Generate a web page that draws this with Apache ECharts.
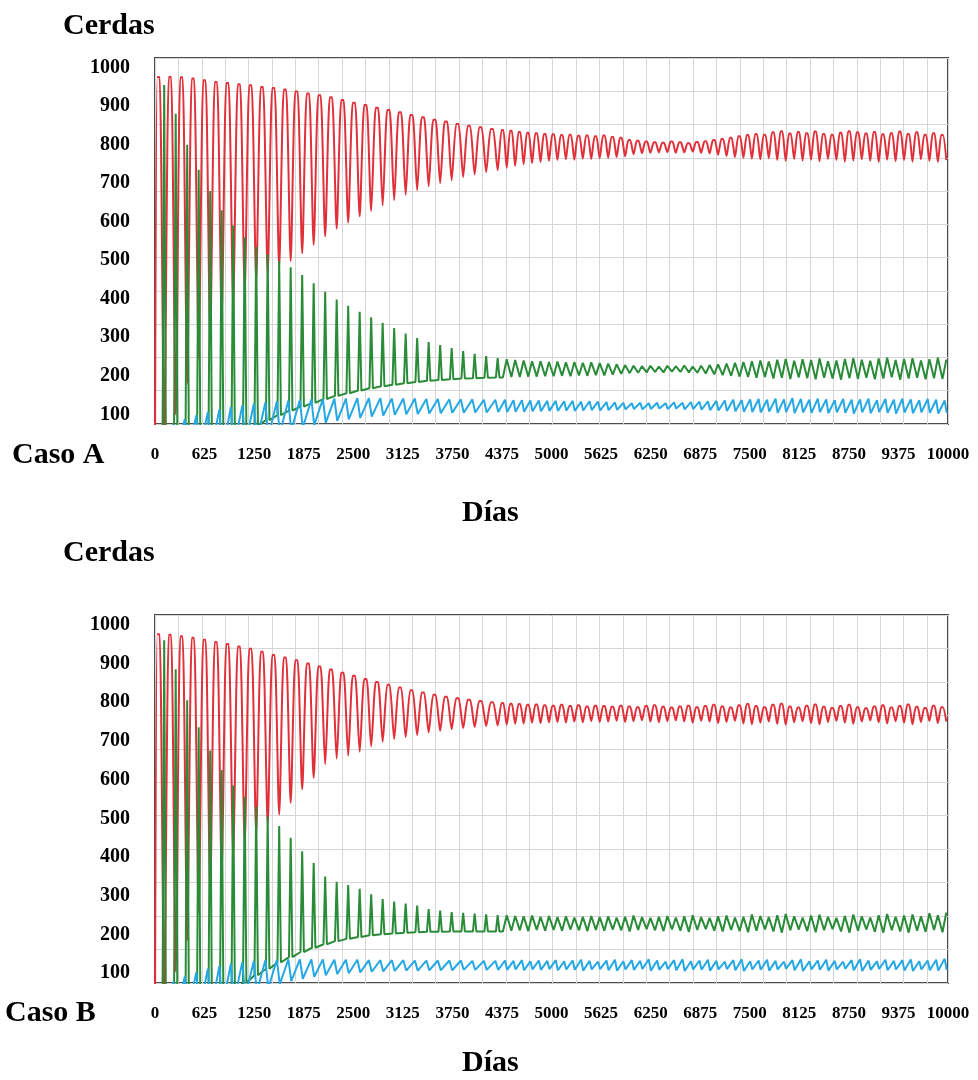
<!DOCTYPE html>
<html><head><meta charset="utf-8">
<script src="https://cdn.jsdelivr.net/npm/echarts@6/dist/echarts.min.js"></script>
<style>html,body{margin:0;padding:0;background:#fff}#c{width:978px;height:1080px}</style>
</head><body><div id="c"></div><script>
// ---------- tick labels ----------
const xTicks = [0,625,1250,1875,2500,3125,3750,4375,5000,5625,6250,6875,7500,8125,8750,9375,10000];
const yTicks = [100,200,300,400,500,600,700,800,900,1000];

// ---------- cycle timing ----------
const CYCLES_EARLY = 30;      // cycles with the long early period
const PERIOD_EARLY = 145;     // days
const LAST_DAY = 10000;

// ---------- Caso A : per-cycle peaks (Hi) and troughs (Lo) ----------
const redHiA = [976,976,975,972,967,963,960,957,954,950,947,943,938,933,928,923,916,909,903,896,890,884,877,871,865,860,854,849,845,841,
  838,836,833,831,830,828,827,825,826,823,824,822,824,820,818,812,810,808,806,805,808,806,804,807,809,812,815,818,822,825,828,826,832,835,829,833,830,834,828,826,831,835,832,829,833,827,830,834,828,832,826,830,825];
const redLoA = [30,100,180,245,300,350,390,420,445,465,482,498,518,540,562,582,598,614,628,642,656,670,682,692,700,708,716,723,729,734,
  740,745,749,752,755,758,760,762,761,764,763,765,766,768,770,775,778,779,780,781,779,780,782,779,777,774,771,768,766,764,762,765,760,758,763,759,761,757,763,760,756,759,762,758,755,761,757,760,756,762,758,755,760];
const grnHiA = [955,880,800,735,680,630,590,560,535,515,498,482,462,440,418,398,382,366,352,338,324,310,298,288,280,272,264,257,251,246,
  243,241,240,238,238,236,237,235,236,234,235,233,232,230,228,226,225,226,224,226,225,227,224,226,228,230,232,234,236,238,240,237,242,244,239,243,241,245,238,240,244,246,242,239,245,247,241,244,246,240,243,247,242];
const grnLoA = [0,0,0,0,10,25,40,55,70,85,98,110,120,130,140,148,155,162,168,173,177,181,184,187,189,191,193,194,195,196,
  196,197,197,198,198,199,199,200,199,201,200,202,201,203,205,207,208,209,210,209,211,210,209,208,206,204,202,200,198,197,195,197,193,195,192,196,194,191,195,193,190,194,192,195,191,193,196,190,193,195,191,194,192];
const cyaHiA = [60,75,88,98,106,113,119,124,128,131,134,136,138,139,140,141,141,142,142,142,141,141,141,140,140,139,139,139,138,138,
  138,137,137,136,136,135,135,134,135,133,134,133,132,131,130,129,130,129,130,129,131,130,132,133,134,135,136,138,137,139,140,138,141,139,142,140,138,141,139,137,140,138,139,141,137,140,138,141,139,137,140,138,136];
const cyaLoA = [0,0,0,0,0,0,10,20,30,40,50,58,65,72,78,83,87,91,94,97,99,100,101,102,103,104,104,105,105,106,
  106,107,107,108,108,109,109,110,109,110,111,110,111,112,113,114,113,114,115,114,115,113,114,112,111,110,109,108,107,106,105,107,104,106,103,105,104,106,103,105,104,102,105,103,106,104,102,105,103,105,104,102,104];
const redDay0A = 0;

// ---------- Caso B ----------
const redHiB = [975,974,970,966,961,955,950,944,938,930,922,915,908,900,892,884,876,868,860,852,845,838,831,825,819,814,810,806,803,800,
  798,796,795,793,794,792,791,793,790,792,789,791,790,788,791,789,787,790,792,788,786,789,791,787,790,793,789,786,792,795,790,787,793,796,789,786,791,794,788,785,790,793,787,784,789,792,786,790,794,788,785,791,787];
const redLoB = [30,105,185,255,315,365,405,435,460,485,510,540,575,605,640,654,662,672,686,698,705,710,715,722,726,730,733,736,738,740,
  742,744,745,747,746,748,749,747,750,748,751,749,750,752,749,751,753,750,748,751,753,750,747,752,750,746,749,752,745,743,747,750,744,742,748,751,746,743,749,752,747,744,750,753,748,745,751,747,743,749,752,746,750];
const grnHiB = [960,885,805,735,675,625,585,555,530,505,480,450,415,385,350,336,328,318,304,292,285,280,275,266,262,258,256,254,252,250,
  250,248,247,249,246,248,245,247,244,246,248,245,247,244,246,249,245,243,246,248,244,247,250,245,243,247,249,244,246,252,248,245,250,253,247,244,249,251,246,243,248,252,247,244,250,253,246,249,252,247,255,250,257];
const grnLoB = [0,0,0,0,15,35,55,75,95,112,128,142,155,166,175,183,189,194,198,201,203,205,206,207,207,208,208,208,208,208,
  208,210,211,209,212,210,212,210,213,211,209,212,210,213,211,208,212,214,211,209,213,210,207,212,214,210,208,212,209,206,210,213,208,205,211,213,209,206,211,214,208,205,210,213,207,205,211,208,205,210,207,212,206];
const cyaHiB = [60,78,92,103,112,119,125,129,132,134,135,136,136,136,136,135,135,135,134,134,134,134,133,133,133,133,133,132,132,132,
  133,132,134,131,133,132,134,131,133,135,132,130,133,135,131,134,132,136,133,130,134,136,131,133,135,132,130,134,136,131,133,135,132,130,134,136,131,133,135,132,130,134,136,133,131,135,132,134,136,131,133,135,138];
const cyaLoB = [0,0,0,0,0,10,25,40,52,62,72,80,86,91,95,98,100,102,104,105,106,107,107,108,108,108,109,109,109,109,
  109,110,108,110,109,111,108,110,109,107,110,111,108,107,110,109,111,107,109,111,108,106,110,109,107,110,111,108,106,110,109,107,110,112,108,106,110,109,107,110,112,108,106,109,111,108,110,107,106,110,108,107,109];
const redDay0B = 0;

// ---------- build series points ----------
function timing(n){
  const pLate = (LAST_DAY - CYCLES_EARLY*PERIOD_EARLY) / (n - CYCLES_EARLY);
  return i => i < CYCLES_EARLY ? [i*PERIOD_EARLY, PERIOD_EARLY, true]
                               : [CYCLES_EARLY*PERIOD_EARLY + (i-CYCLES_EARLY)*pLate, pLate, false];
}
function redPts(hi, lo, day0){
  const tm = timing(hi.length), out = [[0, day0]];
  hi.forEach((h,i)=>{ const [t,p]=tm(i); out.push([t+0.2*p,h],[t+0.4*p,h],[t+0.8*p,lo[i]]); });
  return out;
}
function grnPts(hi, lo){
  const tm = timing(hi.length), out = [[0, lo[0]]];
  hi.forEach((h,i)=>{ const [t,p,early]=tm(i);
    if (early) out.push([t+0.65*p,lo[i]],[t+0.8*p,h],[t+0.95*p,lo[i]]);
    else out.push([t+0.35*p,lo[i]],[t+0.8*p,h]); });
  return out;
}
function cyaPts(hi, lo){
  const tm = timing(hi.length), out = [[0, lo[0]]];
  hi.forEach((h,i)=>{ const [t,p]=tm(i); out.push([t+0.6*p,h],[t+0.85*p,lo[i]]); });
  return out;
}

const SERIF = '"Liberation Serif","DejaVu Serif",serif';
const chart = echarts.init(document.getElementById('c'), null, {renderer:'canvas'});
const grids = [
  {left:155, top:58, width:793, height:366},
  {left:155, top:615, width:793, height:368}
];
const xAxis = [], yAxis = [], series = [];
const cases = [
  {red:redPts(redHiA,redLoA,redDay0A), grn:grnPts(grnHiA,grnLoA), cya:cyaPts(cyaHiA,cyaLoA)},
  {red:redPts(redHiB,redLoB,redDay0B), grn:grnPts(grnHiB,grnLoB), cya:cyaPts(cyaHiB,cyaLoB)}
];
const plain = v => String(v);
grids.forEach((g,gi)=>{
  xAxis.push({type:'value', gridIndex:gi, min:0, max:10000, position:'bottom',
    axisLine:{show:false}, axisTick:{show:false}, splitLine:{show:false},
    axisLabel:{customValues:xTicks, formatter:plain, margin:22, fontFamily:SERIF, fontWeight:'bold', fontSize:17, color:'#000', hideOverlap:false}});
  yAxis.push({type:'value', gridIndex:gi, min:75, max:1025, position:'left',
    axisLine:{show:false}, axisTick:{show:false}, splitLine:{show:false},
    axisLabel:{customValues:yTicks, formatter:plain, margin:25, fontFamily:SERIF, fontWeight:'bold', fontSize:20, color:'#000'}});
  xAxis.push({type:'value', gridIndex:gi, min:0, max:33.9, interval:1, position:'top',
    axisLine:{show:false}, axisTick:{show:false}, axisLabel:{show:false},
    splitLine:{show:true, lineStyle:{color:'#d6d6d6', width:1}}});
  yAxis.push({type:'value', gridIndex:gi, min:0, max:11, interval:1, position:'right',
    axisLine:{show:false}, axisTick:{show:false}, axisLabel:{show:false},
    splitLine:{show:true, lineStyle:{color:'#d6d6d6', width:1}}});
  const xi = gi*2, yi = gi*2, c = cases[gi];
  const mk = (data,color,w,sm)=>({type:'line', xAxisIndex:xi, yAxisIndex:yi, data, symbol:'none', showSymbol:false,
     smooth:sm, clip:true, silent:true, animation:false, lineStyle:{color, width:w}, itemStyle:{color}});
  series.push(mk(c.red,'#e0303a',2,0.25), mk(c.grn,'#2a8c38',2,false), mk(c.cya,'#25a8e4',2,false));
});
const txt = (text,x,y)=>({type:'text', x, y, style:{text, font:'bold 30px '+SERIF, fill:'#000', textVerticalAlign:'middle', textAlign:'left'}});
chart.setOption({
  animation:false,
  backgroundColor:'#fff',
  grid: grids.map(g=>Object.assign({show:true, borderColor:'#4d4d4d', borderWidth:2, backgroundColor:'#fff', containLabel:false, outerBoundsMode:'none'}, g)),
  xAxis, yAxis, series,
  graphic: [
    txt('Cerdas',63,26), txt('Caso A',12,455), txt('Días',462,513),
    txt('Cerdas',63,553), txt('Caso B',5,1013), txt('Días',462,1063)
  ]
});
</script></body></html>
